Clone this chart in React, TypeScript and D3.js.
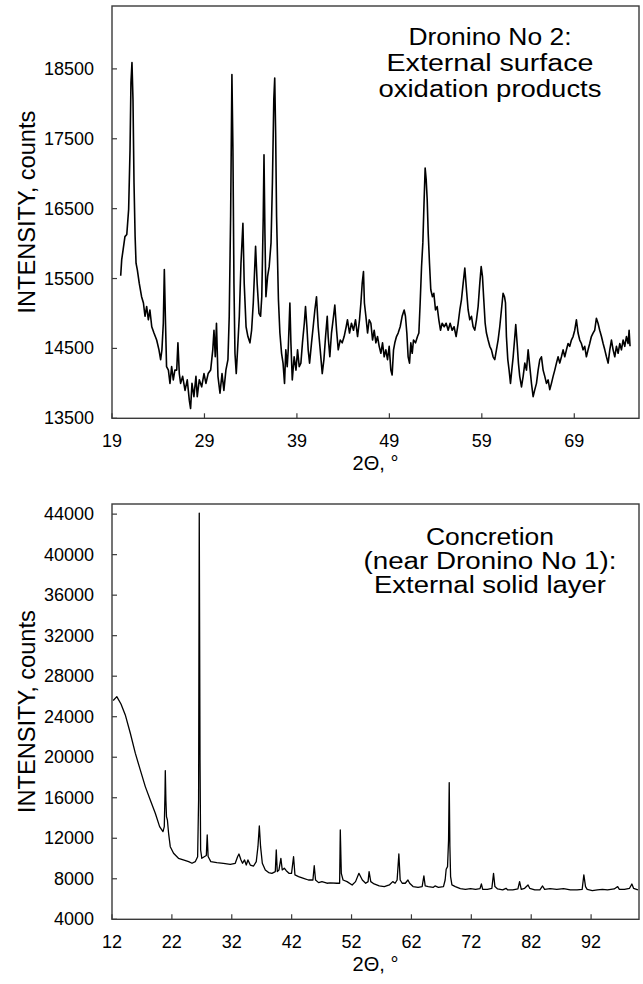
import React from 'react';
import * as d3 from 'd3';

// Dronino No 2 – external surface oxidation products
const theta1 = [
  19.94, 20.05, 20.2, 20.4, 20.6, 20.8, 20.95, 21.05, 21.16, 21.27, 21.38, 21.5, 21.6, 21.74, 21.95,
  22.2, 22.4, 22.57, 22.75, 22.93, 23.1, 23.3, 23.54, 23.83, 24.08, 24.26, 24.4, 24.55, 24.66, 24.77,
  24.9, 25.1, 25.27, 25.45, 25.63, 25.8, 26.0, 26.13, 26.28, 26.42, 26.64, 26.9, 27.14, 27.36, 27.5,
  27.65, 27.86, 28.08, 28.22, 28.44, 28.7, 28.95, 29.16, 29.4, 29.67, 29.9, 30.03, 30.17, 30.3, 30.46,
  30.68, 30.9, 31.1, 31.32, 31.54, 31.68, 31.83, 31.97, 32.08, 32.19, 32.3, 32.44, 32.58, 32.77, 32.95,
  33.16, 33.3, 33.5, 33.7, 33.92, 34.1, 34.28, 34.53, 34.7, 34.9, 35.07, 35.2, 35.36, 35.44, 35.54,
  35.65, 35.83, 36.0, 36.2, 36.35, 36.5, 36.6, 36.7, 36.8, 37.0, 37.16, 37.34, 37.5, 37.66, 37.8,
  37.95, 38.06, 38.24, 38.35, 38.5, 38.7, 38.9, 39.07, 39.25, 39.43, 39.6, 39.8, 39.93, 40.08, 40.22,
  40.37, 40.58, 40.76, 40.94, 41.12, 41.3, 41.52, 41.74, 41.92, 42.1, 42.28, 42.38, 42.56, 42.74, 42.96,
  43.1, 43.29, 43.47, 43.68, 43.9, 44.11, 44.33, 44.47, 44.69, 44.9, 45.12, 45.34, 45.56, 45.77, 45.92,
  46.06, 46.2, 46.3, 46.46, 46.64, 46.82, 47.0, 47.18, 47.36, 47.54, 47.72, 47.9, 48.08, 48.26, 48.44,
  48.62, 48.8, 48.98, 49.16, 49.3, 49.45, 49.59, 49.77, 49.95, 50.17, 50.38, 50.6, 50.74, 50.89, 51.03,
  51.18, 51.32, 51.47, 51.61, 51.83, 52.04, 52.19, 52.33, 52.48, 52.62, 52.76, 52.87, 52.98, 53.09, 53.2,
  53.34, 53.48, 53.66, 53.81, 53.99, 54.17, 54.35, 54.53, 54.71, 54.93, 55.14, 55.36, 55.57, 55.79, 56.0,
  56.22, 56.44, 56.62, 56.8, 56.98, 57.16, 57.34, 57.52, 57.7, 57.88, 58.06, 58.24, 58.42, 58.6, 58.78,
  58.93, 59.07, 59.21, 59.36, 59.5, 59.68, 59.86, 60.04, 60.22, 60.4, 60.58, 60.76, 60.94, 61.12, 61.3,
  61.45, 61.56, 61.66, 61.81, 61.95, 62.1, 62.24, 62.39, 62.57, 62.67, 62.82, 62.96, 63.1, 63.29, 63.47,
  63.65, 63.83, 64.01, 64.19, 64.37, 64.55, 64.73, 64.91, 65.09, 65.27, 65.45, 65.63, 65.81, 65.99, 66.17,
  66.35, 66.53, 66.71, 66.89, 67.07, 67.25, 67.43, 67.61, 67.79, 67.97, 68.15, 68.33, 68.51, 68.69, 68.87,
  69.05, 69.23, 69.41, 69.59, 69.77, 69.95, 70.13, 70.31, 70.49, 70.67, 70.85, 71.03, 71.21, 71.39, 71.57,
  71.75, 71.94, 72.12, 72.3, 72.48, 72.66, 72.84, 73.02, 73.2, 73.38, 73.56, 73.74, 73.92, 74.1, 74.28,
  74.46, 74.64, 74.82, 74.93, 75.03,
];
const counts1 = [
  15540, 15770, 15910, 16100, 16130, 16490, 17340, 18300, 18590, 18060, 16870, 16100, 15720, 15625, 15430,
  15240, 15150, 14960, 15100, 14910, 15050, 14810, 14720, 14620, 14480, 14340, 14480, 14860, 15630, 14960,
  14240, 14190, 14000, 14240, 14050, 14190, 14190, 14580, 14140, 14000, 14100, 13900, 14050, 13760, 13640,
  14000, 13810, 14100, 13810, 14050, 13950, 14140, 14000, 14140, 14190, 14480, 14760, 14380, 14860, 14100,
  13860, 14140, 13900, 14190, 14340, 14960, 16390, 18420, 17340, 15430, 14430, 14140, 14480, 14960, 15720,
  16290, 15430, 14810, 14670, 14580, 14760, 15150, 15960, 15430, 15000, 14960, 15240, 16390, 17270, 16150,
  15240, 15530, 15670, 16010, 16870, 18060, 18370, 17580, 16390, 15200, 14720, 14430, 14290, 14000, 14480,
  14240, 14480, 15150, 14580, 14050, 14380, 14190, 14480, 14240, 14290, 14580, 14860, 15100, 14810, 14480,
  14290, 14580, 14810, 15050, 15240, 14810, 14480, 14140, 14340, 14670, 14960, 14670, 14380, 14720, 14960,
  15120, 14760, 14480, 14620, 14580, 14670, 14810, 14910, 14720, 14860, 14760, 14910, 14670, 14910, 15150,
  15430, 15600, 15150, 14960, 14720, 14910, 14860, 14620, 14760, 14580, 14670, 14530, 14430, 14580, 14380,
  14480, 14340, 14530, 14190, 14120, 14480, 14580, 14670, 14720, 14810, 14960, 15050, 14960, 14720, 14380,
  14290, 14580, 14430, 14620, 14580, 14670, 14720, 15150, 15670, 16010, 16630, 17080, 16920, 16630, 16150,
  15720, 15340, 15240, 15290, 15050, 15100, 14910, 14760, 14860, 14810, 14860, 14760, 14860, 14760, 14810,
  14670, 14860, 15050, 15200, 15430, 15650, 15340, 15050, 14910, 14960, 14810, 14760, 14910, 15100, 15430,
  15670, 15530, 15200, 14860, 14720, 14620, 14530, 14480, 14380, 14340, 14480, 14620, 14810, 15050, 15290,
  15240, 15150, 14670, 14340, 14190, 14000, 14190, 14380, 14670, 14840, 14570, 14290, 14100, 13950, 14100,
  14290, 14190, 14480, 14240, 14000, 13810, 13910, 14000, 14190, 14340, 14380, 14190, 14100, 14000, 14050,
  13910, 14000, 14100, 14190, 14290, 14380, 14290, 14380, 14480, 14380, 14480, 14570, 14530, 14620, 14670,
  14760, 14910, 14720, 14620, 14570, 14480, 14530, 14380, 14480, 14570, 14670, 14720, 14760, 14930, 14860,
  14760, 14670, 14570, 14480, 14380, 14290, 14480, 14620, 14480, 14380, 14530, 14430, 14570, 14480, 14620,
  14530, 14670, 14570, 14760, 14530,
];

// Concretion (near Dronino No 1) – external solid layer
const theta2 = [
  12.2, 12.8, 13.5, 14.22, 15.06, 15.89, 16.72, 17.56, 18.39, 19.23, 19.95, 20.51, 20.73, 20.85, 20.9,
  21.0, 21.1, 21.25, 21.45, 21.73, 22.28, 23.1, 23.9, 24.8, 25.36, 25.9, 26.3, 26.46, 26.57, 26.7,
  26.8, 27.0, 27.4, 27.75, 27.9, 28.05, 28.5, 29.5, 30.6, 31.75, 32.58, 32.97, 33.2, 33.54, 33.8,
  34.13, 34.42, 34.7, 35.09, 35.64, 36.09, 36.37, 36.6, 36.81, 37.1, 37.6, 38.15, 38.7, 39.27, 39.43,
  39.6, 39.88, 40.2, 40.43, 40.77, 41.1, 41.55, 41.98, 42.32, 42.55, 43.15, 43.99, 44.8, 45.55, 45.77,
  45.99, 46.5, 47.06, 47.9, 48.43, 49.56, 50.01, 50.12, 50.29, 50.58, 51.25, 52.1, 52.67, 53.23, 53.8,
  54.36, 54.76, 54.93, 55.21, 55.77, 56.62, 57.47, 58.31, 58.88, 59.27, 59.61, 59.9, 60.12, 60.46, 60.97,
  61.42, 61.7, 62.27, 63.11, 63.79, 64.08, 64.3, 64.81, 65.66, 65.94, 66.5, 67.35, 67.63, 67.8, 68.03,
  68.2, 68.31, 68.42, 68.54, 68.76, 69.33, 70.17, 71.02, 71.87, 72.72, 73.45, 73.68, 73.9, 74.69, 75.43,
  75.71, 75.94, 76.39, 77.24, 77.8, 78.08, 78.93, 79.78, 80.06, 80.34, 80.9, 81.47, 81.75, 82.6, 83.45,
  83.9, 84.24, 85.14, 86.27, 87.4, 88.53, 89.66, 90.51, 90.79, 91.07, 91.35, 92.2, 93.05, 93.9, 94.74,
  95.87, 96.44, 96.72, 97.57, 98.42, 98.81, 99.09, 99.83,
];
const counts2 = [
  25600, 25980, 25250, 24180, 22370, 20400, 18750, 17100, 15780, 14470, 13150, 12650, 13150, 16440, 18680,
  15780, 14130, 13800, 12490, 11170, 10520, 10020, 9860, 9690, 9530, 9690, 10180, 15780, 44100, 19700,
  10840, 10020, 10180, 10300, 12330, 10200, 9690, 9590, 9530, 9430, 9530, 10180, 10450, 9860, 9530,
  9860, 9360, 9860, 9360, 9260, 9690, 11170, 13210, 11170, 9530, 8870, 8610, 8540, 8710, 10840,
  8710, 8870, 10020, 8870, 9040, 8800, 8540, 8540, 10180, 8380, 8220, 8050, 7880, 7880, 9290,
  7880, 7620, 7720, 7560, 7600, 7560, 7560, 12820, 8540, 7880, 7720, 7390, 7720, 8540, 7880,
  7560, 7720, 8710, 7720, 7490, 7290, 7230, 7390, 7720, 7560, 7880, 10450, 7880, 7560, 7560,
  7880, 7560, 7230, 7160, 7230, 8280, 7290, 7230, 7160, 7290, 7160, 7230, 7880, 8940, 9200,
  11830, 17500, 11240, 8210, 7390, 7230, 7030, 6960, 7030, 6960, 7030, 7490, 6960, 6960, 7060,
  8540, 7230, 7000, 6900, 7060, 6900, 6900, 7000, 7720, 6960, 7060, 7390, 7060, 6900, 6900,
  7290, 6960, 7030, 6960, 7030, 6900, 6900, 6960, 8380, 7230, 6960, 6830, 6900, 6960, 6900,
  7000, 7230, 6960, 6960, 7060, 7490, 7060, 6900,
];

const xTicks1 = [19, 29, 39, 49, 59, 69];
const yTicks1 = [13500, 14500, 15500, 16500, 17500, 18500];
const xTicks2 = [12, 22, 32, 42, 52, 62, 72, 82, 92];
const yTicks2 = [4000, 8000, 12000, 16000, 20000, 24000, 28000, 32000, 36000, 40000, 44000];

const label1 = ['Dronino No 2:', 'External surface', 'oxidation products'];
const label2 = ['Concretion', '(near Dronino No 1):', 'External solid layer'];

const FONT = '"Liberation Sans", Arial, Helvetica, sans-serif';

type PanelProps = {
  theta: number[];
  counts: number[];
  xDomain: [number, number];
  yDomain: [number, number];
  xTicks: number[];
  yTicks: number[];
  top: number;
  bottom: number;
  lineWidth: number;
  label: string[];
  labelY: number[];
  labelW: number[];
};

const Panel = ({ theta, counts, xDomain, yDomain, xTicks, yTicks, top, bottom, lineWidth, label, labelY, labelW }: PanelProps) => {
  const left = 112;
  const right = 639;
  const x = d3.scaleLinear().domain(xDomain).range([left, right]);
  const y = d3.scaleLinear().domain(yDomain).range([bottom, top]);

  const pts = theta.map((t, i) => [t, counts[i]] as [number, number]);
  const line = d3.line<[number, number]>()
    .x(d => x(d[0]))
    .y(d => y(d[1]));

  return (
    <g fontFamily={FONT} fill="#000">
      <path d={line(pts) || ''} fill="none" stroke="#000" strokeWidth={lineWidth} strokeLinejoin="round" />
      <rect x={left} y={top} width={right - left} height={bottom - top} fill="none" stroke="#3a3a3a" strokeWidth={1.4} />

      {xTicks.map(t => (
        <g key={'x' + t}>
          <line x1={x(t)} x2={x(t)} y1={bottom} y2={bottom - 5} stroke="#3a3a3a" strokeWidth={1.2} />
          <text x={x(t)} y={bottom + 29} textAnchor="middle" fontSize={18}>{t}</text>
        </g>
      ))}
      {yTicks.map(t => (
        <g key={'y' + t}>
          <line x1={left} x2={left + 5} y1={y(t)} y2={y(t)} stroke="#3a3a3a" strokeWidth={1.2} />
          <text x={94} y={y(t)} textAnchor="end" dominantBaseline="central" fontSize={18}>{t}</text>
        </g>
      ))}

      <text x={(left + right) / 2} y={bottom + 52} textAnchor="middle" fontSize={20}>2Θ, °</text>
      <text
        transform={`translate(35, ${(top + bottom) / 2}) rotate(-90)`}
        textAnchor="middle"
        fontSize={23}
        textLength={203}
        lengthAdjust="spacingAndGlyphs"
      >
        INTENSITY, counts
      </text>

      {label.map((s, i) => (
        <text
          key={s}
          x={490 - labelW[i] / 2}
          y={labelY[i]}
          fontSize={23.5}
          textLength={labelW[i]}
          lengthAdjust="spacingAndGlyphs"
        >
          {s}
        </text>
      ))}
    </g>
  );
};

export default function App() {
  return (
    <svg
      width={643}
      height={984}
      style={{ position: 'absolute', left: 0, top: 0, background: '#fff' }}
    >
      <rect width={643} height={984} fill="#fff" />
      <Panel
        theta={theta1}
        counts={counts1}
        xDomain={[19, 76]}
        yDomain={[13500, 19400]}
        xTicks={xTicks1}
        yTicks={yTicks1}
        top={6}
        bottom={418.3}
        lineWidth={1.6}
        label={label1}
        labelY={[45, 71, 97]}
        labelW={[163, 207, 223]}
      />
      <Panel
        theta={theta2}
        counts={counts2}
        xDomain={[12, 100]}
        yDomain={[4000, 45000]}
        xTicks={xTicks2}
        yTicks={yTicks2}
        top={504}
        bottom={919.3}
        lineWidth={1.3}
        label={label2}
        labelY={[545, 569, 593]}
        labelW={[128, 253, 232]}
      />
    </svg>
  );
}
